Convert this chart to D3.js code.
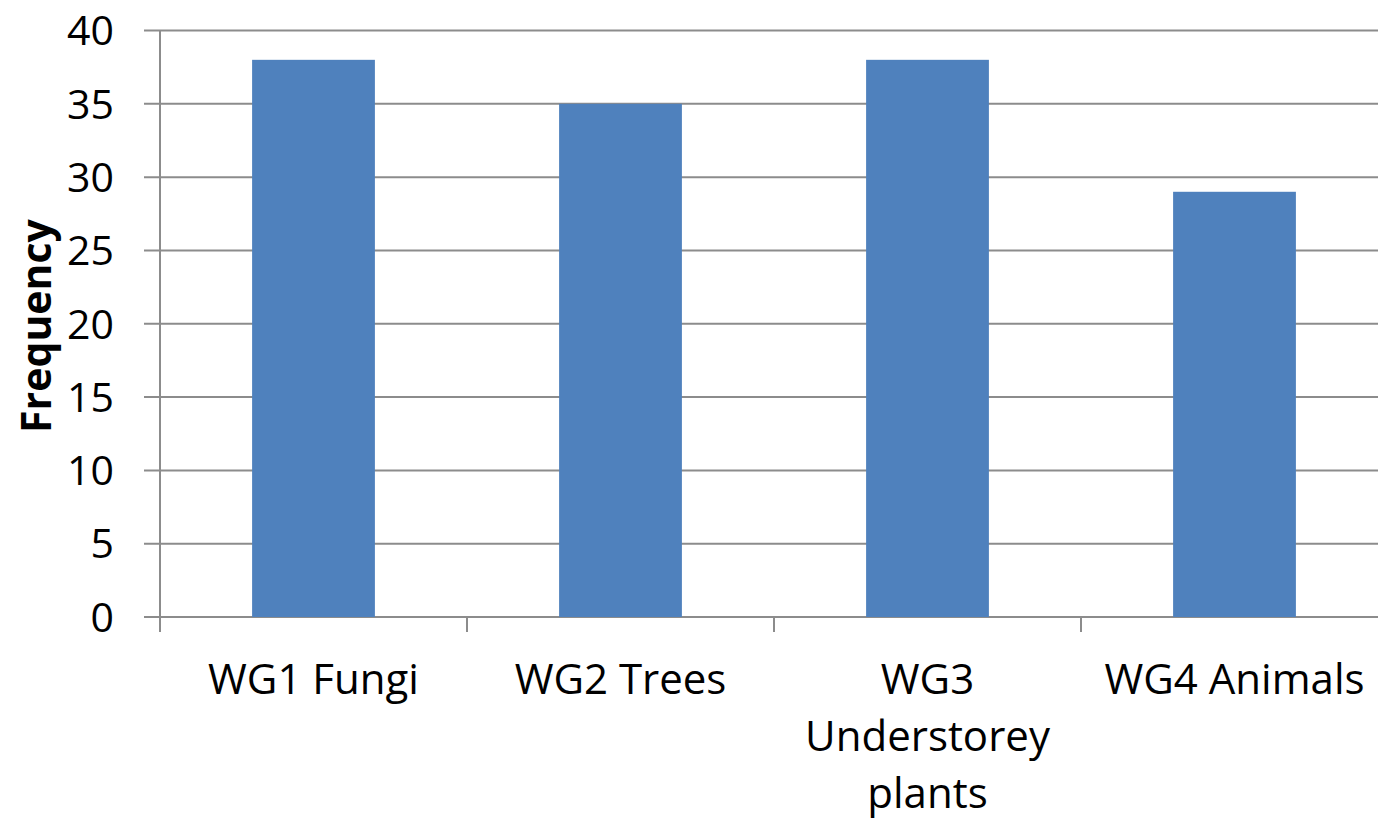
<!DOCTYPE html>
<html><head><meta charset="utf-8">
<script src="https://cdn.jsdelivr.net/npm/d3@7"></script>
<style>body{margin:0;background:#fff}svg{display:block}text{font-family:"Open Sans",sans-serif}</style>
</head><body><svg id="c" width="1378" height="819"></svg>
<script>
const categories = ["WG1 Fungi", "WG2 Trees", "WG3 Understorey plants", "WG4 Animals"];
const labelLines = [["WG1 Fungi"], ["WG2 Trees"], ["WG3", "Understorey", "plants"], ["WG4 Animals"]];
const values = [38, 35, 38, 29];
const yTicks = [0, 5, 10, 15, 20, 25, 30, 35, 40];
const yTitle = "Frequency";

const svg = d3.select("#c");
const x0 = 160, x1 = 1388, yTop = 30.5, yBot = 617;
const x = d3.scaleBand().domain(categories).range([x0, x1]).paddingInner(0.6).paddingOuter(0.3);
const xb = d3.scaleBand().domain(categories).range([x0, x1]);
const y = d3.scaleLinear().domain([0, 40]).range([yBot, yTop]);

// gridlines
svg.append("g").selectAll("line").data(yTicks).join("line")
  .attr("x1", x0 - 16).attr("x2", x1)
  .attr("y1", d => y(d)).attr("y2", d => y(d))
  .attr("stroke", "#8c8c8c").attr("stroke-width", 2);
// y axis line
svg.append("line").attr("x1", x0).attr("x2", x0).attr("y1", yTop).attr("y2", yBot)
  .attr("stroke", "#8c8c8c").attr("stroke-width", 2);
// x ticks
const bounds = categories.map(c => xb(c)).concat([x1]);
svg.append("g").selectAll("line").data(bounds).join("line")
  .attr("x1", d => d).attr("x2", d => d).attr("y1", yBot).attr("y2", yBot + 15)
  .attr("stroke", "#8c8c8c").attr("stroke-width", 2);

// bars
svg.append("g").selectAll("rect").data(values).join("rect")
  .attr("x", (d, i) => x(categories[i]))
  .attr("width", x.bandwidth())
  .attr("y", d => y(d))
  .attr("height", d => yBot - y(d))
  .attr("fill", "#4F81BD");

// y tick labels
svg.append("g").selectAll("text").data(yTicks).join("text")
  .attr("x", 114).attr("y", d => y(d)).attr("dy", "0.36em")
  .attr("text-anchor", "end").attr("font-size", 41).attr("fill", "#000")
  .text(d => d);

// x labels
const xl = svg.append("g").selectAll("text").data(categories).join("text")
  .attr("text-anchor", "middle").attr("font-size", 42).attr("fill", "#000")
  .attr("transform", c => `translate(${xb(c) + xb.bandwidth() / 2},694)`);
xl.each(function(c, i) {
  d3.select(this).selectAll("tspan").data(labelLines[i]).join("tspan")
    .attr("x", 0).attr("y", (d, j) => j * 57).text(d => d);
});

// y title
svg.append("text").attr("transform", "translate(51,326) rotate(-90)")
  .attr("text-anchor", "middle").attr("font-size", 41).attr("font-weight", "bold")
  .text(yTitle);
</script></body></html>
